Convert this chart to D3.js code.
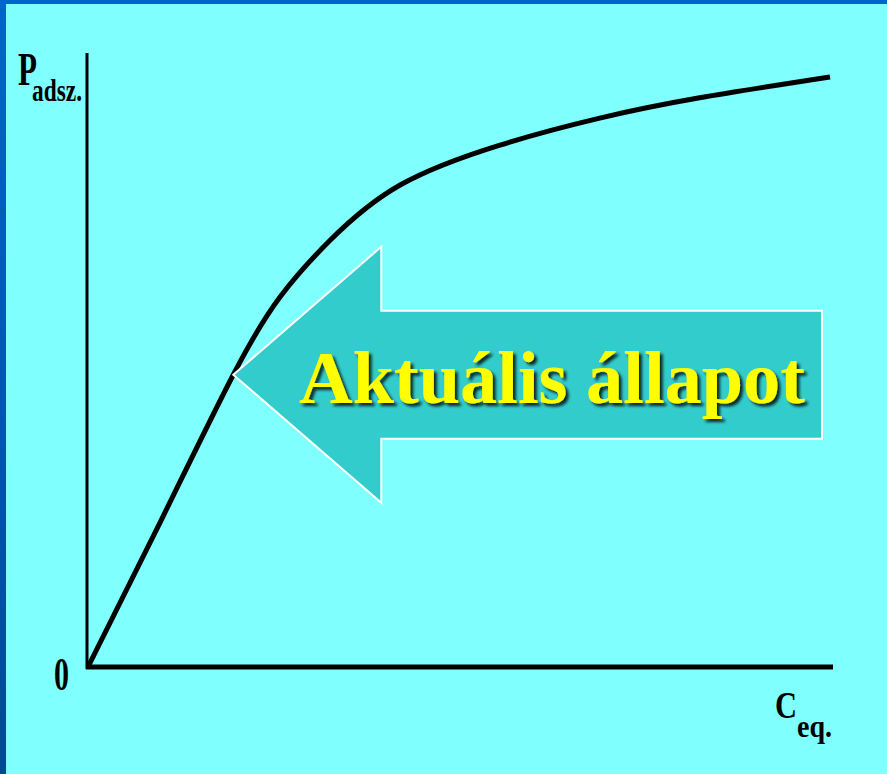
<!DOCTYPE html>
<html lang="hu">
<head>
<meta charset="UTF-8">
<title>Adszorpciós izoterma</title>
<script src="https://cdn.jsdelivr.net/npm/d3@7"></script>
<style>
  body { margin: 0; background: #80ffff; }
  svg { display: block; }
</style>
</head>
<body>
<svg width="887" height="774" id="mainsvg"></svg>
<script>
// isotherm curve (C_eq, P_adsz) in relative units
const ceq = [0, 9.7, 19.5, 25.8, 32.5, 41.9, 55.3, 68.7, 82.1, 99.6]
const padsz = [0, 23.6, 47.6, 60.3, 69.5, 78.5, 85.0, 89.4, 92.7, 96.1]
// index of the point the arrow points at
const markIndex = 2
const arrowLabel = 'Aktuális állapot'

const svg = d3.select('#mainsvg')
const width = +svg.attr('width')
const height = +svg.attr('height')

// slide frame
const defs = svg.append('defs')
const grad = defs.append('linearGradient').attr('id', 'leftbar')
  .attr('x1', 0).attr('y1', 0).attr('x2', 0).attr('y2', 1)
grad.append('stop').attr('offset', '0%').attr('stop-color', '#0066cc')
grad.append('stop').attr('offset', '100%').attr('stop-color', '#004a90')

const shadow = defs.append('filter').attr('id', 'shadow')
  .attr('x', '-10%').attr('y', '-10%').attr('width', '130%').attr('height', '140%')
shadow.append('feDropShadow')
  .attr('dx', 3).attr('dy', 3).attr('stdDeviation', 1.5)
  .attr('flood-color', '#000').attr('flood-opacity', 0.8)

svg.append('rect').attr('width', width).attr('height', height).attr('fill', '#80ffff')
svg.append('rect').attr('width', width).attr('height', 4).attr('fill', '#0066cc')
svg.append('rect').attr('width', 6).attr('height', height).attr('fill', 'url(#leftbar)')

// scales
const x = d3.scaleLinear().domain([0, 100]).range([88, 833])
const y = d3.scaleLinear().domain([0, 100]).range([667, 53])

const g = svg.append('g')

// axes without ticks
g.append('g')
  .attr('transform', `translate(0,${y(0)})`)
  .call(d3.axisBottom(x).tickValues([]).tickSizeOuter(0))
  .call(a => a.select('.domain').attr('stroke', '#000').attr('stroke-width', 5)
    .attr('d', `M${x(0) - 2},0H${x(100)}`))

g.append('g')
  .attr('transform', `translate(${x(0) - 1},0)`)
  .call(d3.axisLeft(y).tickValues([]).tickSizeOuter(0))
  .call(a => a.select('.domain').attr('stroke', '#000').attr('stroke-width', 3)
    .attr('d', `M0,${y(0) + 2}V${y(100)}`))

// curve
const pts = ceq.map((c, i) => [c, padsz[i]])
const line = d3.line()
  .x(d => x(d[0]))
  .y(d => y(d[1]))
  .curve(d3.curveNatural)

g.append('path')
  .datum(pts)
  .attr('d', line)
  .attr('fill', 'none')
  .attr('stroke', '#000')
  .attr('stroke-width', 5)
  .attr('stroke-linecap', 'butt')

// arrow pointing at the marked state
const tx = x(ceq[markIndex]), ty = y(padsz[markIndex])
const headBack = tx + 148, headHalf = 128, shaftHalf = 64, tailX = 822
const arrowPts = [
  [tx, ty],
  [headBack, ty - headHalf],
  [headBack, ty - shaftHalf],
  [tailX, ty - shaftHalf],
  [tailX, ty + shaftHalf],
  [headBack, ty + shaftHalf],
  [headBack, ty + headHalf]
]
g.append('polygon')
  .attr('points', arrowPts.map(p => p.join(',')).join(' '))
  .attr('fill', '#33cccc')
  .attr('stroke', '#fff')
  .attr('stroke-width', 2)
  .attr('stroke-linejoin', 'miter')

g.append('text')
  .text(arrowLabel)
  .attr('x', 299)
  .attr('y', ty + 28)
  .attr('font-family', '"Liberation Serif", "Times New Roman", serif')
  .attr('font-weight', 'bold')
  .attr('font-size', 74)
  .attr('textLength', 506)
  .attr('lengthAdjust', 'spacingAndGlyphs')
  .attr('fill', '#ffff00')
  .attr('filter', 'url(#shadow)')

// axis labels
const labelFont = '"Liberation Serif", "Times New Roman", serif'
function label(txt, px, py, size, len) {
  g.append('text').text(txt)
    .attr('x', px).attr('y', py)
    .attr('font-family', labelFont)
    .attr('font-weight', 'bold')
    .attr('font-size', size)
    .attr('textLength', len)
    .attr('lengthAdjust', 'spacingAndGlyphs')
    .attr('fill', '#000')
}
label('P', 18, 85, 47, 19)
label('adsz.', 32, 101, 32, 50)
label('0', 54, 690, 47, 15)
label('C', 775, 718, 37, 22)
label('eq.', 797, 737, 32, 35)
</script>
</body>
</html>
